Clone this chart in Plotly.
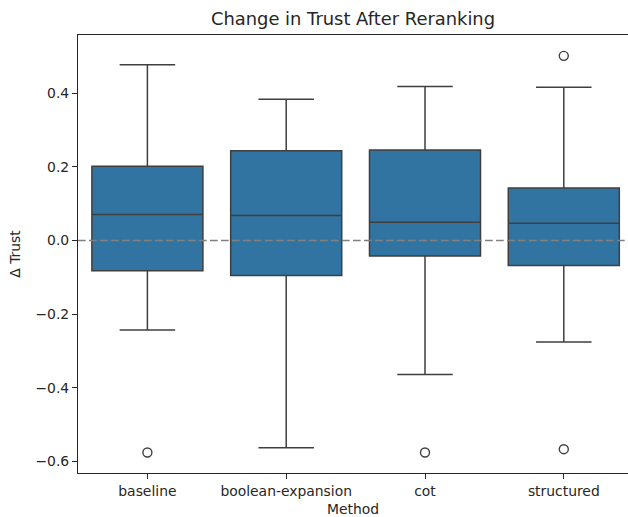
import plotly.graph_objects as go

# Summary statistics of the change in trust for each reranking method
methods = ["baseline", "boolean-expansion", "cot", "structured"]
q1 = [-0.082, -0.095, -0.042, -0.068]
median = [0.071, 0.068, 0.050, 0.047]
q3 = [0.202, 0.244, 0.246, 0.143]
lower_fence = [-0.243, -0.563, -0.364, -0.276]
upper_fence = [0.478, 0.384, 0.419, 0.417]

# Points lying beyond the whiskers
outlier_methods = ["baseline", "cot", "structured", "structured"]
outlier_values = [-0.576, -0.576, 0.502, -0.567]

y_ticks = [-0.6, -0.4, -0.2, 0.0, 0.2, 0.4]

FONT = "DejaVu Sans"
DARK = "#3f3f3f"

fig = go.Figure()

fig.add_trace(go.Box(
    x=methods,
    q1=q1,
    median=median,
    q3=q3,
    lowerfence=lower_fence,
    upperfence=upper_fence,
    width=0.8,
    fillcolor="#3274a1",
    line=dict(color=DARK, width=1.5),
    whiskerwidth=0.5,
    boxpoints=False,
    showlegend=False,
    hoverinfo="skip",
))

fig.add_trace(go.Scatter(
    x=outlier_methods,
    y=outlier_values,
    mode="markers",
    marker=dict(symbol="circle-open", size=9, color=DARK, line=dict(width=1.4, color=DARK)),
    showlegend=False,
    hoverinfo="skip",
))

# Reference line at zero change
fig.add_shape(
    type="line", xref="paper", yref="y",
    x0=0, x1=1, y0=0, y1=0,
    line=dict(color="#808080", width=1.5, dash="7.7px,3.3px"),
    layer="above",
)

def tick_label(v):
    s = f"{abs(v):.1f}"
    return ("\u2212" + s) if v < 0 else s

fig.update_layout(
    width=628,
    height=517,
    margin=dict(l=78, r=0, t=35, b=44),
    paper_bgcolor="white",
    plot_bgcolor="white",
    boxgap=0.2,
    boxgroupgap=0,
    font=dict(family=FONT, size=13.9, color="#262626"),
    title=dict(
        text="Change in Trust After Reranking",
        x=0.5, xref="paper", xanchor="center",
        y=1 - 19 / 517, yanchor="middle", yref="container",
        font=dict(family=FONT, size=17.9, color="#262626"),
    ),
    xaxis=dict(
        type="category",
        categoryorder="array",
        categoryarray=methods,
        range=[-0.5, 3.4625],
        showline=True, mirror=True, linecolor="#262626", linewidth=1.1,
        ticks="outside", ticklen=5, tickwidth=1, tickcolor="#262626",
        showgrid=False, zeroline=False,
        title=dict(text="Method", standoff=6, font=dict(size=13.9)),
    ),
    yaxis=dict(
        range=[-0.6317, 0.5587],
        tickvals=y_ticks,
        ticktext=[tick_label(v) for v in y_ticks],
        showline=True, mirror=False, linecolor="#262626", linewidth=1.1,
        ticks="outside", ticklen=5, tickwidth=1, tickcolor="#262626",
        showgrid=False, zeroline=False,
        title=dict(text="\u0394 Trust", standoff=11, font=dict(size=13.9)),
    ),
)

fig.write_html("out.html")
